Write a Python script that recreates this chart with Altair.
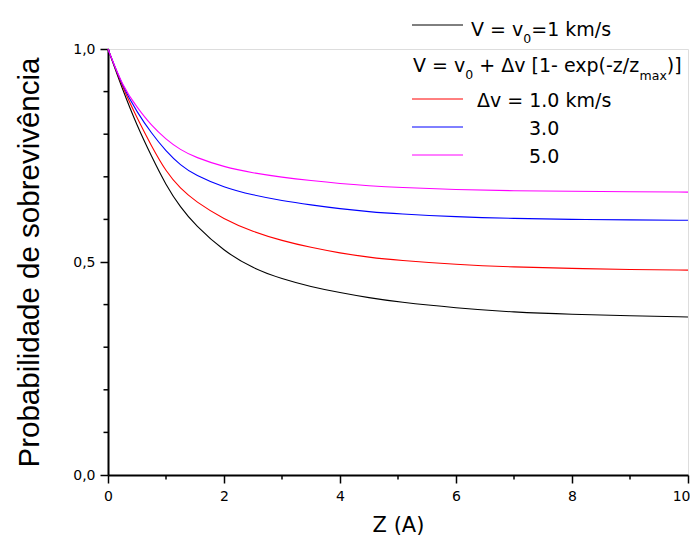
import altair as alt
import pandas as pd

# ---------------- data ----------------
z_values = [0, 0.25, 0.5, 0.75, 1.0, 1.25, 1.5, 2.0, 2.5, 3.0, 3.5, 4.0, 4.5,
            5.0, 6.0, 7.0, 8.0, 9.0, 10.0]
p_v0 = [1.0, 0.905, 0.820, 0.748, 0.680, 0.628, 0.587, 0.525, 0.485, 0.460,
        0.442, 0.428, 0.416, 0.406, 0.392, 0.382, 0.377, 0.374, 0.371]
p_dv1 = [1.0, 0.910, 0.838, 0.772, 0.712, 0.672, 0.643, 0.600, 0.571, 0.550,
         0.534, 0.521, 0.511, 0.504, 0.494, 0.488, 0.485, 0.482, 0.481]
p_dv3 = [1.0, 0.912, 0.852, 0.802, 0.760, 0.727, 0.704, 0.675, 0.657, 0.644,
         0.634, 0.625, 0.618, 0.613, 0.606, 0.602, 0.600, 0.599, 0.598]
p_dv5 = [1.0, 0.913, 0.863, 0.820, 0.788, 0.763, 0.746, 0.723, 0.709, 0.699,
         0.691, 0.684, 0.679, 0.675, 0.670, 0.667, 0.666, 0.665, 0.664]

series_names = ["V = v0 = 1 km/s", "Δv = 1.0 km/s", "Δv = 3.0 km/s", "Δv = 5.0 km/s"]
series_colors = ["#000000", "#FF0000", "#0000FF", "#FF00FF"]

x_major = [0, 2, 4, 6, 8, 10]
x_minor = [1, 3, 5, 7, 9]
y_major = [0.0, 0.5, 1.0]
y_minor = [0.1, 0.2, 0.3, 0.4, 0.6, 0.7, 0.8, 0.9]

# ---------------- layout ----------------
FONT = "DejaVu Sans"
TITLE_FONT = "Liberation Sans"
W, H = 580, 426
OX, OY = 108, 49          # page position of the plot origin

rows = []
for name, vals in zip(series_names, [p_v0, p_dv1, p_dv3, p_dv5]):
    for z, p in zip(z_values, vals):
        rows.append({"z": z, "p": p, "serie": name})
df = pd.DataFrame(rows)

x_scale = alt.Scale(domain=[0, 10], nice=False, zero=False)
y_scale = alt.Scale(domain=[0, 1], nice=False)

x_axis = alt.Axis(
    values=x_major, format="d", title="Z (A)", grid=False,
    labelFont=FONT, labelFontSize=14, labelColor="black", labelPadding=6,
    labelAlign={"condition": {"test": "datum.value == 10", "value": "right"}, "value": "center"},
    labelOffset={"condition": {"test": "datum.value == 10", "value": 2}, "value": 0},
    tickSize=8, tickWidth=1.5, tickColor="black",
    domainWidth=2, domainColor="black",
    titleFont=FONT, titleFontSize=21, titleFontWeight="normal", titleColor="black",
    titleX=W / 2, titleY=50, titleBaseline="middle", titleAlign="center",
)
y_axis = alt.Axis(
    values=y_major, title="Probabilidade de sobrevivência", grid=False,
    labelExpr="replace(format(datum.value, '.1f'), '.', ',')",
    labelFont=FONT, labelFontSize=14, labelColor="black", labelPadding=5,
    tickSize=8, tickWidth=1.5, tickColor="black",
    domainWidth=2, domainColor="black",
    titleFont=TITLE_FONT, titleFontSize=29.5, titleFontWeight="normal", titleColor="black",
    titleAngle=270, titleX=29 - OX, titleY=H / 2, titleBaseline="middle",
    titleAlign="center",
)

lines = alt.Chart(df).mark_line(strokeWidth=1.1, interpolate="basis").encode(
    x=alt.X("z:Q", scale=x_scale, axis=x_axis),
    y=alt.Y("p:Q", scale=y_scale, axis=y_axis),
    color=alt.Color("serie:N", scale=alt.Scale(domain=series_names, range=series_colors),
                    legend=None),
)

minor_x = alt.Chart(pd.DataFrame({"z": x_minor})).mark_rule(
    color="black", strokeWidth=1.5).encode(
    x=alt.X("z:Q", scale=x_scale, axis=x_axis),
    y=alt.value(H), y2=alt.value(H + 4.5),
)
minor_y = alt.Chart(pd.DataFrame({"p": y_minor})).mark_rule(
    color="black", strokeWidth=1.5).encode(
    y=alt.Y("p:Q", scale=y_scale, axis=y_axis),
    x=alt.value(0), x2=alt.value(-4.5),
)


def label(text, px, py, size, color="black"):
    return alt.Chart(pd.DataFrame({"t": [text]})).mark_text(
        align="left", baseline="alphabetic", font=FONT, fontSize=size, color=color
    ).encode(x=alt.value(px - OX), y=alt.value(py - OY), text="t:N")


def swatch(color, py):
    return alt.Chart(pd.DataFrame({"c": [color]})).mark_rule(
        color=color, strokeWidth=1).encode(
        x=alt.value(412 - OX), x2=alt.value(463 - OX), y=alt.value(py - OY))


LS = 19     # legend font size
SS = 12.5   # subscript size
legend_layers = [
    swatch(series_colors[0], 25),
    label("V = v", 471, 36, LS),
    label("0", 523.3, 43, SS),
    label("=1 km/s", 531.3, 36, LS),
    label("V = v", 413, 72, LS),
    label("0", 465.3, 79, SS),
    label("+ Δv [1- exp(-z/z", 479.3, 72, LS),
    label("max", 639.6, 80, SS),
    label(")]", 666.8, 72, LS),
    swatch(series_colors[1], 99),
    label("Δv = 1.0 km/s", 477, 107, LS),
    swatch(series_colors[2], 127),
    label("3.0", 529, 135, LS),
    swatch(series_colors[3], 155),
    label("5.0", 529, 163, LS),
]

chart = alt.layer(lines, minor_x, minor_y, *legend_layers).properties(
    width=W, height=H,
    autosize=alt.AutoSizeParams(type="none"),
    padding={"left": OX - 8, "top": OY - 8, "right": 2, "bottom": 62},
).configure_view(stroke=None).configure(font=FONT)

chart.save("out.html", embed_options={"renderer": "svg", "actions": False})
